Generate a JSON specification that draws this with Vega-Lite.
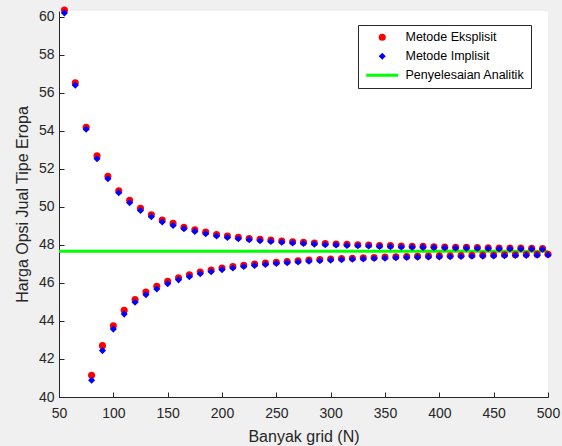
{
  "$schema": "https://vega.github.io/schema/vega-lite/v6.json",
  "width": 489,
  "height": 386,
  "autosize": {"type": "none"},
  "padding": {"left": 59, "top": 11, "right": 14, "bottom": 49},
  "background": "#f0f0f0",
  "config": {
    "view": {"fill": "white", "stroke": null},
    "font": "Liberation Sans",
    "axis": {
      "grid": false,
      "domainColor": "#262626",
      "tickColor": "#262626",
      "labelColor": "#262626",
      "titleColor": "#262626",
      "labelFontSize": 14,
      "titleFontSize": 16,
      "titleFontWeight": "normal",
      "tickSize": -5,
      "labelOverlap": false,
      "labelFlush": false,
      "labelBound": false,
      "titlePadding": 8
    },
    "axisX": {"labelPadding": 14},
    "axisY": {"labelPadding": 10}
  },
  "datasets": {
    "pts": [
      {"N": 55, "value": 60.35, "series": "Metode Eksplisit"},
      {"N": 65, "value": 56.52, "series": "Metode Eksplisit"},
      {"N": 75, "value": 54.19, "series": "Metode Eksplisit"},
      {"N": 85, "value": 52.68, "series": "Metode Eksplisit"},
      {"N": 95, "value": 51.61, "series": "Metode Eksplisit"},
      {"N": 105, "value": 50.85, "series": "Metode Eksplisit"},
      {"N": 115, "value": 50.34, "series": "Metode Eksplisit"},
      {"N": 125, "value": 49.93, "series": "Metode Eksplisit"},
      {"N": 135, "value": 49.58, "series": "Metode Eksplisit"},
      {"N": 145, "value": 49.31, "series": "Metode Eksplisit"},
      {"N": 155, "value": 49.13, "series": "Metode Eksplisit"},
      {"N": 165, "value": 48.93, "series": "Metode Eksplisit"},
      {"N": 175, "value": 48.79, "series": "Metode Eksplisit"},
      {"N": 185, "value": 48.67, "series": "Metode Eksplisit"},
      {"N": 195, "value": 48.55, "series": "Metode Eksplisit"},
      {"N": 205, "value": 48.47, "series": "Metode Eksplisit"},
      {"N": 215, "value": 48.40, "series": "Metode Eksplisit"},
      {"N": 225, "value": 48.34, "series": "Metode Eksplisit"},
      {"N": 235, "value": 48.29, "series": "Metode Eksplisit"},
      {"N": 245, "value": 48.25, "series": "Metode Eksplisit"},
      {"N": 255, "value": 48.20, "series": "Metode Eksplisit"},
      {"N": 265, "value": 48.16, "series": "Metode Eksplisit"},
      {"N": 275, "value": 48.13, "series": "Metode Eksplisit"},
      {"N": 285, "value": 48.10, "series": "Metode Eksplisit"},
      {"N": 295, "value": 48.07, "series": "Metode Eksplisit"},
      {"N": 305, "value": 48.05, "series": "Metode Eksplisit"},
      {"N": 315, "value": 48.03, "series": "Metode Eksplisit"},
      {"N": 325, "value": 48.01, "series": "Metode Eksplisit"},
      {"N": 335, "value": 47.99, "series": "Metode Eksplisit"},
      {"N": 345, "value": 47.97, "series": "Metode Eksplisit"},
      {"N": 355, "value": 47.96, "series": "Metode Eksplisit"},
      {"N": 365, "value": 47.94, "series": "Metode Eksplisit"},
      {"N": 375, "value": 47.93, "series": "Metode Eksplisit"},
      {"N": 385, "value": 47.92, "series": "Metode Eksplisit"},
      {"N": 395, "value": 47.90, "series": "Metode Eksplisit"},
      {"N": 405, "value": 47.89, "series": "Metode Eksplisit"},
      {"N": 415, "value": 47.88, "series": "Metode Eksplisit"},
      {"N": 425, "value": 47.87, "series": "Metode Eksplisit"},
      {"N": 435, "value": 47.86, "series": "Metode Eksplisit"},
      {"N": 445, "value": 47.85, "series": "Metode Eksplisit"},
      {"N": 455, "value": 47.84, "series": "Metode Eksplisit"},
      {"N": 465, "value": 47.84, "series": "Metode Eksplisit"},
      {"N": 475, "value": 47.83, "series": "Metode Eksplisit"},
      {"N": 485, "value": 47.82, "series": "Metode Eksplisit"},
      {"N": 495, "value": 47.81, "series": "Metode Eksplisit"},
      {"N": 80, "value": 41.14, "series": "Metode Eksplisit"},
      {"N": 90, "value": 42.70, "series": "Metode Eksplisit"},
      {"N": 100, "value": 43.75, "series": "Metode Eksplisit"},
      {"N": 110, "value": 44.56, "series": "Metode Eksplisit"},
      {"N": 120, "value": 45.12, "series": "Metode Eksplisit"},
      {"N": 130, "value": 45.52, "series": "Metode Eksplisit"},
      {"N": 140, "value": 45.82, "series": "Metode Eksplisit"},
      {"N": 150, "value": 46.08, "series": "Metode Eksplisit"},
      {"N": 160, "value": 46.27, "series": "Metode Eksplisit"},
      {"N": 170, "value": 46.43, "series": "Metode Eksplisit"},
      {"N": 180, "value": 46.57, "series": "Metode Eksplisit"},
      {"N": 190, "value": 46.68, "series": "Metode Eksplisit"},
      {"N": 200, "value": 46.78, "series": "Metode Eksplisit"},
      {"N": 210, "value": 46.86, "series": "Metode Eksplisit"},
      {"N": 220, "value": 46.93, "series": "Metode Eksplisit"},
      {"N": 230, "value": 46.99, "series": "Metode Eksplisit"},
      {"N": 240, "value": 47.04, "series": "Metode Eksplisit"},
      {"N": 250, "value": 47.09, "series": "Metode Eksplisit"},
      {"N": 260, "value": 47.13, "series": "Metode Eksplisit"},
      {"N": 270, "value": 47.17, "series": "Metode Eksplisit"},
      {"N": 280, "value": 47.20, "series": "Metode Eksplisit"},
      {"N": 290, "value": 47.23, "series": "Metode Eksplisit"},
      {"N": 300, "value": 47.26, "series": "Metode Eksplisit"},
      {"N": 310, "value": 47.28, "series": "Metode Eksplisit"},
      {"N": 320, "value": 47.30, "series": "Metode Eksplisit"},
      {"N": 330, "value": 47.32, "series": "Metode Eksplisit"},
      {"N": 340, "value": 47.34, "series": "Metode Eksplisit"},
      {"N": 350, "value": 47.36, "series": "Metode Eksplisit"},
      {"N": 360, "value": 47.37, "series": "Metode Eksplisit"},
      {"N": 370, "value": 47.39, "series": "Metode Eksplisit"},
      {"N": 380, "value": 47.40, "series": "Metode Eksplisit"},
      {"N": 390, "value": 47.41, "series": "Metode Eksplisit"},
      {"N": 400, "value": 47.42, "series": "Metode Eksplisit"},
      {"N": 410, "value": 47.43, "series": "Metode Eksplisit"},
      {"N": 420, "value": 47.44, "series": "Metode Eksplisit"},
      {"N": 430, "value": 47.45, "series": "Metode Eksplisit"},
      {"N": 440, "value": 47.46, "series": "Metode Eksplisit"},
      {"N": 450, "value": 47.47, "series": "Metode Eksplisit"},
      {"N": 460, "value": 47.48, "series": "Metode Eksplisit"},
      {"N": 470, "value": 47.48, "series": "Metode Eksplisit"},
      {"N": 480, "value": 47.49, "series": "Metode Eksplisit"},
      {"N": 490, "value": 47.50, "series": "Metode Eksplisit"},
      {"N": 500, "value": 47.51, "series": "Metode Eksplisit"},
      {"N": 55, "value": 60.20, "series": "Metode Implisit"},
      {"N": 65, "value": 56.40, "series": "Metode Implisit"},
      {"N": 75, "value": 54.08, "series": "Metode Implisit"},
      {"N": 85, "value": 52.53, "series": "Metode Implisit"},
      {"N": 95, "value": 51.48, "series": "Metode Implisit"},
      {"N": 105, "value": 50.74, "series": "Metode Implisit"},
      {"N": 115, "value": 50.22, "series": "Metode Implisit"},
      {"N": 125, "value": 49.81, "series": "Metode Implisit"},
      {"N": 135, "value": 49.48, "series": "Metode Implisit"},
      {"N": 145, "value": 49.20, "series": "Metode Implisit"},
      {"N": 155, "value": 49.02, "series": "Metode Implisit"},
      {"N": 165, "value": 48.85, "series": "Metode Implisit"},
      {"N": 175, "value": 48.71, "series": "Metode Implisit"},
      {"N": 185, "value": 48.59, "series": "Metode Implisit"},
      {"N": 195, "value": 48.47, "series": "Metode Implisit"},
      {"N": 205, "value": 48.39, "series": "Metode Implisit"},
      {"N": 215, "value": 48.32, "series": "Metode Implisit"},
      {"N": 225, "value": 48.27, "series": "Metode Implisit"},
      {"N": 235, "value": 48.22, "series": "Metode Implisit"},
      {"N": 245, "value": 48.18, "series": "Metode Implisit"},
      {"N": 255, "value": 48.14, "series": "Metode Implisit"},
      {"N": 265, "value": 48.10, "series": "Metode Implisit"},
      {"N": 275, "value": 48.07, "series": "Metode Implisit"},
      {"N": 285, "value": 48.04, "series": "Metode Implisit"},
      {"N": 295, "value": 48.01, "series": "Metode Implisit"},
      {"N": 305, "value": 47.99, "series": "Metode Implisit"},
      {"N": 315, "value": 47.97, "series": "Metode Implisit"},
      {"N": 325, "value": 47.95, "series": "Metode Implisit"},
      {"N": 335, "value": 47.94, "series": "Metode Implisit"},
      {"N": 345, "value": 47.92, "series": "Metode Implisit"},
      {"N": 355, "value": 47.91, "series": "Metode Implisit"},
      {"N": 365, "value": 47.89, "series": "Metode Implisit"},
      {"N": 375, "value": 47.88, "series": "Metode Implisit"},
      {"N": 385, "value": 47.87, "series": "Metode Implisit"},
      {"N": 395, "value": 47.86, "series": "Metode Implisit"},
      {"N": 405, "value": 47.85, "series": "Metode Implisit"},
      {"N": 415, "value": 47.84, "series": "Metode Implisit"},
      {"N": 425, "value": 47.83, "series": "Metode Implisit"},
      {"N": 435, "value": 47.82, "series": "Metode Implisit"},
      {"N": 445, "value": 47.81, "series": "Metode Implisit"},
      {"N": 455, "value": 47.80, "series": "Metode Implisit"},
      {"N": 465, "value": 47.80, "series": "Metode Implisit"},
      {"N": 475, "value": 47.79, "series": "Metode Implisit"},
      {"N": 485, "value": 47.78, "series": "Metode Implisit"},
      {"N": 495, "value": 47.77, "series": "Metode Implisit"},
      {"N": 80, "value": 40.88, "series": "Metode Implisit"},
      {"N": 90, "value": 42.44, "series": "Metode Implisit"},
      {"N": 100, "value": 43.57, "series": "Metode Implisit"},
      {"N": 110, "value": 44.36, "series": "Metode Implisit"},
      {"N": 120, "value": 44.98, "series": "Metode Implisit"},
      {"N": 130, "value": 45.38, "series": "Metode Implisit"},
      {"N": 140, "value": 45.68, "series": "Metode Implisit"},
      {"N": 150, "value": 45.96, "series": "Metode Implisit"},
      {"N": 160, "value": 46.16, "series": "Metode Implisit"},
      {"N": 170, "value": 46.33, "series": "Metode Implisit"},
      {"N": 180, "value": 46.48, "series": "Metode Implisit"},
      {"N": 190, "value": 46.59, "series": "Metode Implisit"},
      {"N": 200, "value": 46.70, "series": "Metode Implisit"},
      {"N": 210, "value": 46.78, "series": "Metode Implisit"},
      {"N": 220, "value": 46.86, "series": "Metode Implisit"},
      {"N": 230, "value": 46.92, "series": "Metode Implisit"},
      {"N": 240, "value": 46.97, "series": "Metode Implisit"},
      {"N": 250, "value": 47.02, "series": "Metode Implisit"},
      {"N": 260, "value": 47.06, "series": "Metode Implisit"},
      {"N": 270, "value": 47.10, "series": "Metode Implisit"},
      {"N": 280, "value": 47.14, "series": "Metode Implisit"},
      {"N": 290, "value": 47.17, "series": "Metode Implisit"},
      {"N": 300, "value": 47.20, "series": "Metode Implisit"},
      {"N": 310, "value": 47.22, "series": "Metode Implisit"},
      {"N": 320, "value": 47.24, "series": "Metode Implisit"},
      {"N": 330, "value": 47.26, "series": "Metode Implisit"},
      {"N": 340, "value": 47.28, "series": "Metode Implisit"},
      {"N": 350, "value": 47.30, "series": "Metode Implisit"},
      {"N": 360, "value": 47.32, "series": "Metode Implisit"},
      {"N": 370, "value": 47.34, "series": "Metode Implisit"},
      {"N": 380, "value": 47.35, "series": "Metode Implisit"},
      {"N": 390, "value": 47.36, "series": "Metode Implisit"},
      {"N": 400, "value": 47.37, "series": "Metode Implisit"},
      {"N": 410, "value": 47.38, "series": "Metode Implisit"},
      {"N": 420, "value": 47.39, "series": "Metode Implisit"},
      {"N": 430, "value": 47.40, "series": "Metode Implisit"},
      {"N": 440, "value": 47.41, "series": "Metode Implisit"},
      {"N": 450, "value": 47.42, "series": "Metode Implisit"},
      {"N": 460, "value": 47.43, "series": "Metode Implisit"},
      {"N": 470, "value": 47.44, "series": "Metode Implisit"},
      {"N": 480, "value": 47.45, "series": "Metode Implisit"},
      {"N": 490, "value": 47.46, "series": "Metode Implisit"},
      {"N": 500, "value": 47.47, "series": "Metode Implisit"}
    ],
    "ana": [
      {"value": 47.67, "series": "Penyelesaian Analitik"}
    ]
  },
  "layer": [
    {
      "data": {"name": "ana"},
      "mark": {"type": "rule", "strokeWidth": 3},
      "encoding": {
        "y": {
          "field": "value", "type": "quantitative", "title": "Harga Opsi Jual Tipe Eropa",
          "scale": {"domain": [40, 60.3], "nice": false, "zero": false},
          "axis": {"values": [40, 42, 44, 46, 48, 50, 52, 54, 56, 58, 60], "labelOverlap": false}
        },
        "color": {"field": "series", "type": "nominal"}
      }
    },
    {
      "data": {"name": "pts"},
      "mark": {"type": "point", "filled": true, "opacity": 1, "size": 50},
      "encoding": {
        "x": {
          "field": "N", "type": "quantitative", "title": "Banyak grid (N)",
          "scale": {"domain": [50, 500], "nice": false, "zero": false},
          "axis": {"values": [50, 100, 150, 200, 250, 300, 350, 400, 450, 500], "labelOverlap": false}
        },
        "y": {
          "field": "value", "type": "quantitative", "title": "Harga Opsi Jual Tipe Eropa",
          "scale": {"domain": [40, 60.3], "nice": false, "zero": false},
          "axis": {"values": [40, 42, 44, 46, 48, 50, 52, 54, 56, 58, 60], "labelOverlap": false}
        },
        "color": {
          "field": "series", "type": "nominal",
          "scale": {"domain": ["Metode Eksplisit", "Metode Implisit", "Penyelesaian Analitik"], "range": ["#ff0000", "#0000ff", "#00ff00"]},
          "legend": {
            "title": null,
            "orient": "none",
            "legendX": 299,
            "legendY": 14,
            "fillColor": "white",
            "strokeColor": "#262626",
            "padding": 6,
            "labelFontSize": 12.5,
            "labelColor": "#000000",
            "labelOffset": 17,
            "symbolSize": 64,
            "symbolOffset": 12,
            "rowPadding": 6,
            "symbolOpacity": 1,
            "encode": {
              "symbols": {
                "update": {
                  "size": {"signal": "datum.value === 'Penyelesaian Analitik' ? 64 : 50"},
                  "stroke": {"scale": "color", "field": "value"},
                  "strokeWidth": {"signal": "datum.value === 'Penyelesaian Analitik' ? 3 : 0"}
                }
              }
            }
          }
        },
        "shape": {
          "field": "series", "type": "nominal",
          "scale": {"domain": ["Metode Eksplisit", "Metode Implisit", "Penyelesaian Analitik"], "range": ["circle", "diamond", "M-4,0L4,0"]}
        }
      }
    }
  ]
}
